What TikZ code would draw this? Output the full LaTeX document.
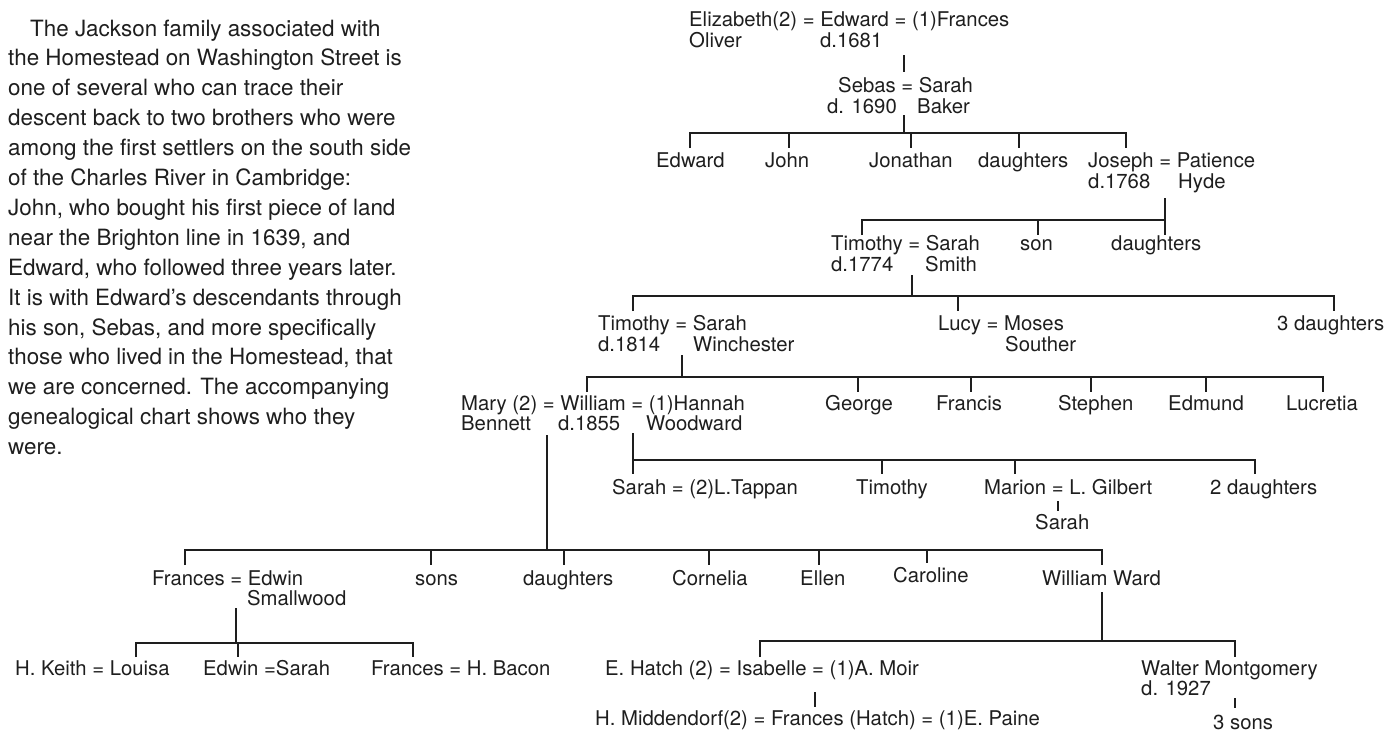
\documentclass[tikz,border=0pt]{standalone}
\usepackage{fontspec}
\setmainfont{TeX Gyre Heros}
\definecolor{ink}{HTML}{1E1E1E}
\begin{document}
\begin{tikzpicture}[x=1pt,y=-1pt,
  lbl/.style={anchor=base west, inner sep=0pt, text=ink, font=\fontsize{20.3}{20.3}\selectfont},
  txt/.style={anchor=base west, inner sep=0pt, text=ink, font=\fontsize{22.4}{29.9}\selectfont},
  link/.style={line width=1.8pt, draw=ink, line join=miter}]
\useasboundingbox[fill=white] (0,0) rectangle (1397,736);

% ---------- left text ----------
\node[txt] (p1) at (30,36) {The Jackson family associated with};
\foreach \t [count=\i from 2] in {
  {the Homestead on Washington Street is},
  {one of several who can trace their},
  {descent back to two brothers who were},
  {among the first settlers on the south side},
  {of the Charles River in Cambridge:},
  {John, who bought his first piece of land},
  {near the Brighton line in 1639, and},
  {Edward, who followed three years later.},
  {It is with Edward’s descendants through},
  {his son, Sebas, and more specifically},
  {those who lived in the Homestead, that},
  {we are concerned. The accompanying},
  {genealogical chart shows who they},
  {were.}}
  \node[txt, name=p\i] at (8,{36+29.9*(\i-1)}) {\t};

% ---------- row 0 ----------
\node[lbl] (edw) at (689,27) {Elizabeth(2) = Edward = (1)Frances};
\node[lbl] (edwa) at (689,47) {Oliver};
\node[lbl] (edwb) at (820,47) {d.1681};
% ---------- row 1 ----------
\node[lbl] (seb) at (838,92) {Sebas = Sarah};
\node[lbl] (seba) at (827,113) {d. 1690};
\node[lbl] (sebb) at (917,113) {Baker};
% ---------- row 2 ----------
\node[lbl] (r2a) at (656,167) {Edward};
\node[lbl] (r2b) at (765,167) {John};
\node[lbl] (r2c) at (869,167) {Jonathan};
\node[lbl] (r2d) at (978,167) {daughters};
\node[lbl] (jos) at (1088,167) {Joseph = Patience};
\node[lbl] (josa) at (1088,188) {d.1768};
\node[lbl] (josb) at (1178,188) {Hyde};
% ---------- row 3 ----------
\node[lbl] (tim1) at (831,250) {Timothy = Sarah};
\node[lbl] (tim1a) at (831,271) {d.1774};
\node[lbl] (tim1b) at (925,271) {Smith};
\node[lbl] (r3b) at (1020,250) {son};
\node[lbl] (r3c) at (1111,250) {daughters};
% ---------- row 4 ----------
\node[lbl] (tim2) at (598,330) {Timothy = Sarah};
\node[lbl] (tim2a) at (598,351) {d.1814};
\node[lbl] (tim2b) at (693,351) {Winchester};
\node[lbl] (lucy) at (938,330) {Lucy = Moses};
\node[lbl] (lucyb) at (1005,351) {Souther};
\node[lbl] (r4c) at (1277,330) {3 daughters};
% ---------- row 5 ----------
\node[lbl] (wil) at (461,410) {Mary (2) = William = (1)Hannah};
\node[lbl] (wila) at (461,430) {Bennett};
\node[lbl] (wilb) at (558,430) {d.1855};
\node[lbl] (wilc) at (646,430) {Woodward};
\node[lbl] (r5b) at (825,410) {George};
\node[lbl] (r5c) at (936,410) {Francis};
\node[lbl] (r5d) at (1058,410) {Stephen};
\node[lbl] (r5e) at (1168,410) {Edmund};
\node[lbl] (r5f) at (1286,410) {Lucretia};
% ---------- row 6 ----------
\node[lbl] (r6a) at (612,494) {Sarah = (2)L.Tappan};
\node[lbl] (r6b) at (856,494) {Timothy};
\node[lbl] (mar) at (984,494) {Marion = L. Gilbert};
\node[lbl] (r6d) at (1210,494) {2 daughters};
\node[lbl] (marc) at (1035,529) {Sarah};
% ---------- row 7 ----------
\node[lbl] (fra) at (152,585) {Frances = Edwin};
\node[lbl] (fraa) at (247,605) {Smallwood};
\node[lbl] (r7b) at (415,585) {sons};
\node[lbl] (r7c) at (523,585) {daughters};
\node[lbl] (r7d) at (672,585) {Cornelia};
\node[lbl] (r7e) at (800,585) {Ellen};
\node[lbl] (r7f) at (893,582) {Caroline};
\node[lbl] (ww) at (1042,585) {William Ward};
% ---------- row 8 ----------
\node[lbl] (r8a) at (15,675) {H. Keith = Louisa};
\node[lbl] (r8b) at (203,675) {Edwin =Sarah};
\node[lbl] (r8c) at (371,675) {Frances = H. Bacon};
\node[lbl] (isa) at (605,675) {E. Hatch (2) = Isabelle = (1)A. Moir};
\node[lbl] (wal) at (1141,675) {Walter Montgomery};
\node[lbl] (wala) at (1141,695) {d. 1927};
% ---------- row 9 ----------
\node[lbl] (mid) at (595,725) {H. Middendorf(2) = Frances (Hatch) = (1)E. Paine};
\node[lbl] (sons3) at (1213,729) {3 sons};

% ---------- connectors ----------
% Edward -> Sebas
\coordinate (a1) at (904,55); \coordinate (a2) at (904,72);
\draw[link] (a1) -- (a2);
% Sebas family
\coordinate (sb) at (904,115); \coordinate (sbar) at (904,133);
\coordinate (k11) at (690,148); \coordinate (k12) at (789,148); \coordinate (k13) at (911,148);
\coordinate (k14) at (1019,148); \coordinate (k15) at (1126,148);
\draw[link] (sb) -- (sbar);
\draw[link] (k11) -- (k11 |- sbar) -- (k15 |- sbar) -- (k15);
\foreach \k in {k12,k13,k14} \draw[link] (\k |- sbar) -- (\k);
% Joseph family
\coordinate (jt) at (1165,198); \coordinate (jbar) at (1165,220);
\coordinate (k21) at (862,235); \coordinate (k22) at (1038,235); \coordinate (k23) at (1165,235);
\draw[link] (jt) -- (k23);
\draw[link] (k21) -- (k21 |- jbar) -- (jbar);
\draw[link] (k22 |- jbar) -- (k22);
% Timothy (d.1774) family
\coordinate (tt) at (912,275); \coordinate (tbar) at (912,296);
\coordinate (k31) at (633,311); \coordinate (k32) at (958,311); \coordinate (k33) at (1334,311);
\draw[link] (tt) -- (tbar);
\draw[link] (k31) -- (k31 |- tbar) -- (k33 |- tbar) -- (k33);
\draw[link] (k32 |- tbar) -- (k32);
% Timothy (d.1814) family
\coordinate (t2t) at (682,355); \coordinate (t2bar) at (682,377);
\coordinate (k41) at (587,392); \coordinate (k42) at (858,392); \coordinate (k43) at (971,392);
\coordinate (k44) at (1091,392); \coordinate (k45) at (1206,392); \coordinate (k46) at (1323,392);
\draw[link] (t2t) -- (t2bar);
\draw[link] (k41) -- (k41 |- t2bar) -- (k46 |- t2bar) -- (k46);
\foreach \k in {k42,k43,k44,k45} \draw[link] (\k |- t2bar) -- (\k);
% Hannah family
\coordinate (ht) at (633,433); \coordinate (hbar) at (633,460);
\coordinate (k51) at (633,474); \coordinate (k52) at (882,474); \coordinate (k53) at (1015,474); \coordinate (k54) at (1255,474);
\draw[link] (ht) -- (k51);
\draw[link] (hbar) -- (k54 |- hbar) -- (k54);
\foreach \k in {k52,k53} \draw[link] (\k |- hbar) -- (\k);
% Marion -> Sarah
\coordinate (mt) at (1058,501); \coordinate (mb) at (1058,511);
\draw[link] (mt) -- (mb);
% Mary family
\coordinate (m2t) at (547,435); \coordinate (mbar) at (547,550);
\coordinate (k61) at (185,565); \coordinate (k62) at (431,565); \coordinate (k63) at (564,565);
\coordinate (k64) at (709,565); \coordinate (k65) at (819,565); \coordinate (k66) at (927,563); \coordinate (k67) at (1102,565);
\draw[link] (m2t) -- (mbar);
\draw[link] (k61) -- (k61 |- mbar) -- (k67 |- mbar) -- (k67);
\foreach \k in {k62,k63,k64,k65,k66} \draw[link] (\k |- mbar) -- (\k);
% Frances family
\coordinate (ft) at (236,608); \coordinate (fbar) at (236,643);
\coordinate (k71) at (136,657); \coordinate (k72) at (238,657); \coordinate (k73) at (413,657);
\draw[link] (ft) -- (fbar);
\draw[link] (k71) -- (k71 |- fbar) -- (k73 |- fbar) -- (k73);
\draw[link] (k72 |- fbar) -- (k72);
% William Ward family
\coordinate (wt) at (1102,592); \coordinate (wbar) at (1102,641);
\coordinate (k81) at (760,657); \coordinate (k82) at (1235,657);
\draw[link] (wt) -- (wbar);
\draw[link] (k81) -- (k81 |- wbar) -- (k82 |- wbar) -- (k82);
% Isabelle -> Frances
\coordinate (it) at (815,692); \coordinate (ib) at (815,707);
\draw[link] (it) -- (ib);
% Walter -> 3 sons
\coordinate (wmt) at (1235,698); \coordinate (wmb) at (1235,708);
\draw[link] (wmt) -- (wmb);
\end{tikzpicture}
\end{document}
